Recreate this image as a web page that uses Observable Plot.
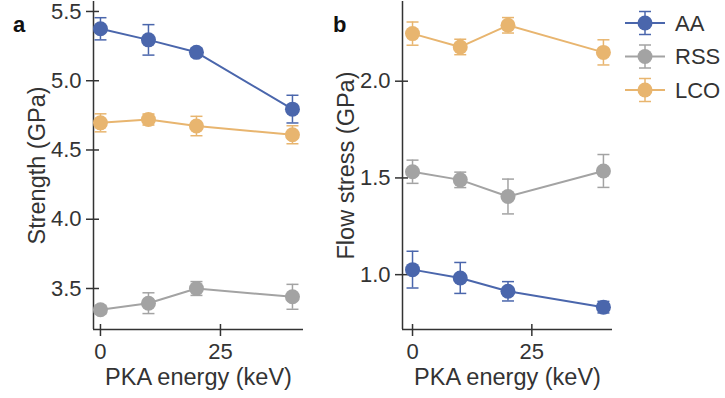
<!DOCTYPE html>
<html>
<head>
<meta charset="utf-8">
<script src="https://cdn.jsdelivr.net/npm/d3@7"></script>
<script src="https://cdn.jsdelivr.net/npm/@observablehq/plot@0.6"></script>
<style>
  html, body { margin: 0; padding: 0; background: #fff; }
  #fig { position: relative; width: 725px; height: 398px; font-family: "Liberation Sans", Arial, sans-serif; color: #333; overflow: hidden; }
  #fig > div { position: absolute; top: 1px; }
  .letter { font-weight: bold; font-size: 22px; line-height: 22px; color: #111; }
</style>
</head>
<body>
<div id="fig">
  <div id="pa" style="left:0"></div>
  <div id="pb" style="left:310px"></div>
  <div id="legend" style="left:620px"></div>
  <div class="letter" style="left:13px;top:14px">a</div>
  <div class="letter" style="left:333px;top:14px">b</div>
</div>
<script>
// ---- data ----
const energy = [0, 10, 20, 40];
const series = ["AA", "RSS", "LCO"];
const colors = ["#4a66ac", "#a3a3a3", "#e8b56f"];

// panel a: strength (GPa)
const strengthAA  = [5.375, 5.295, 5.205, 4.795];
const strengthAAErr = [0.08, 0.11, 0.03, 0.10];
const strengthRSS = [3.347, 3.394, 3.50, 3.44];
const strengthRSSErr = [0.03, 0.075, 0.05, 0.09];
const strengthLCO = [4.696, 4.72, 4.673, 4.61];
const strengthLCOErr = [0.065, 0.04, 0.07, 0.065];

// panel b: flow stress (GPa)
const flowAA  = [1.026, 0.983, 0.914, 0.832];
const flowAAErr = [0.095, 0.08, 0.05, 0.03];
const flowRSS = [1.532, 1.49, 1.404, 1.536];
const flowRSSErr = [0.06, 0.04, 0.09, 0.085];
const flowLCO = [2.246, 2.177, 2.289, 2.149];
const flowLCOErr = [0.06, 0.04, 0.04, 0.065];

const xTicks = [0, 25];
const yTicksA = [3.5, 4.0, 4.5, 5.0, 5.5];
const yTicksB = [1.0, 1.5, 2.0];

function rows(vals, errs) {
  return series.flatMap((s, i) => energy.map((e, j) => ({series: s, energy: e, value: vals[i][j], err: errs[i][j]})));
}
const dataA = rows([strengthAA, strengthRSS, strengthLCO], [strengthAAErr, strengthRSSErr, strengthLCOErr]);
const dataB = rows([flowAA, flowRSS, flowLCO], [flowAAErr, flowRSSErr, flowLCOErr]);

const cap = { draw(ctx, size) { ctx.moveTo(-6, 0); ctx.lineTo(6, 0); } };
const ink = "#333";

function panel(data, {xDomain, yDomain, yTicks, width, marginLeft, marginRight, ylabel}) {
  return Plot.plot({
    width, height: 397, marginTop: 0, marginLeft, marginRight, marginBottom: 69,
    x: {domain: xDomain},
    y: {domain: yDomain},
    color: {domain: series, range: colors},
    style: {fontSize: "22px", fontFamily: "'Liberation Sans', Arial, sans-serif", color: ink, background: "transparent", overflow: "visible"},
    marks: [
      Plot.axisY({ticks: yTicks, tickSize: 7, tickPadding: 5, tickFormat: d3.format(".1f"), strokeWidth: 1.5, label: null}),
      Plot.axisY({ticks: [], label: ylabel, labelAnchor: "center", labelOffset: 65, labelArrow: "none", fontSize: 23.5}),
      Plot.axisY({ticks: yTicks, tickSize: 6, dx: 6, tickFormat: () => "", label: null, strokeWidth: 1.5}),
      Plot.axisX({ticks: xTicks, tickSize: 7, tickPadding: 7, strokeWidth: 1.5, label: null}),
      Plot.axisX({ticks: [], label: "PKA energy (keV)", labelAnchor: "center", labelOffset: 55, labelArrow: "none", fontSize: 23.5}),
      Plot.axisX({ticks: xTicks, tickSize: 5, dy: -5, tickFormat: () => "", label: null, strokeWidth: 1.5}),
      Plot.ruleX([xDomain[0]], {stroke: ink, strokeWidth: 1.5}),
      Plot.ruleY([yDomain[0]], {stroke: ink, strokeWidth: 1.5}),
      Plot.line(data, {x: "energy", y: "value", z: "series", stroke: "series", strokeWidth: 2}),
      Plot.ruleX(data, {x: "energy", y1: d => d.value - d.err, y2: d => d.value + d.err, stroke: "series", strokeWidth: 1.5}),
      Plot.dot(data, {x: "energy", y: d => d.value + d.err, symbol: cap, fill: "none", stroke: "series", strokeWidth: 1.5}),
      Plot.dot(data, {x: "energy", y: d => d.value - d.err, symbol: cap, fill: "none", stroke: "series", strokeWidth: 1.5}),
      Plot.dot(data, {x: "energy", y: "value", r: 7.5, fill: "series", stroke: "none"})
    ]
  });
}

document.getElementById("pa").append(panel(dataA, {
  xDomain: [-1.45, 42.3], yDomain: [3.204, 5.572], yTicks: yTicksA,
  width: 320, marginLeft: 93, marginRight: 17, ylabel: "Strength (GPa)"
}));
document.getElementById("pb").append(panel(dataB, {
  xDomain: [-2.1, 41.9], yDomain: [0.7165, 2.412], yTicks: yTicksB,
  width: 310, marginLeft: 92, marginRight: 8, ylabel: "Flow stress (GPa)"
}));

// legend
const lg = d3.create("svg").attr("width", 105).attr("height", 120)
  .style("font-family", "'Liberation Sans', Arial, sans-serif").style("font-size", "22px");
series.forEach((s, i) => {
  const y = 22 + i * 33.5, c = colors[i];
  const g = lg.append("g").attr("transform", `translate(0,${y})`);
  g.append("line").attr("x1", 5).attr("x2", 45).attr("stroke", c).attr("stroke-width", 2);
  g.append("line").attr("x1", 25).attr("x2", 25).attr("y1", -11.5).attr("y2", 11.5).attr("stroke", c).attr("stroke-width", 1.5);
  g.append("line").attr("x1", 19).attr("x2", 31).attr("y1", -11.5).attr("y2", -11.5).attr("stroke", c).attr("stroke-width", 1.5);
  g.append("line").attr("x1", 19).attr("x2", 31).attr("y1", 11.5).attr("y2", 11.5).attr("stroke", c).attr("stroke-width", 1.5);
  g.append("circle").attr("cx", 25).attr("r", 7.5).attr("fill", c);
  g.append("text").attr("x", 55).attr("dy", "0.35em").attr("fill", ink).text(s);
});
document.getElementById("legend").append(lg.node());
</script>
</body>
</html>
